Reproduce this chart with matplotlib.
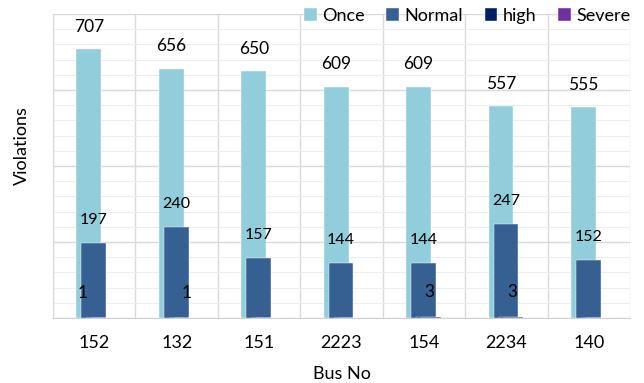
import matplotlib.pyplot as plt
import numpy as np

plt.rcParams['font.family'] = ['Lato', 'DejaVu Sans']

# Bus numbers and violation counts per severity level
buses = ['152', '132', '151', '2223', '154', '2234', '140']
once = [707, 656, 650, 609, 609, 557, 555]
normal = [197, 240, 157, 144, 144, 247, 152]
high = [1, 1, 0, 0, 3, 3, 0]
severe = [0, 0, 0, 0, 0, 0, 0]

series = [('Once', once, '#92cddc'),
          ('Normal', normal, '#366092'),
          ('high', high, '#002060'),
          ('Severe', severe, '#7030a0')]

fig = plt.figure(figsize=(6.44, 3.83), dpi=100)
ax = fig.add_axes([0.0823, 0.1697, 0.896, 0.7937])

x = np.arange(len(buses))
width = 0.30
offsets = [-0.065, -0.005, 0.055, 0.115]

for (name, vals, col), off in zip(series, offsets):
    ax.bar(x + off, vals, width, color=col, label=name, zorder=3,
           edgecolor='white', linewidth=0.3)

# value labels
for xi, v in zip(x + offsets[0], once):
    ax.text(xi, v + 38, str(v), ha='center', va='bottom', fontsize=12.5)
for xi, v in zip(x + offsets[1], normal):
    ax.text(xi, v + 42, str(v), ha='center', va='bottom', fontsize=11.5)
# small labels for the "high" series, nudged by hand
high_nudge = [-0.19, 0.06, 0, 0, 0.01, 0.02, 0]
for xi, v, dx in zip(x + offsets[2], high, high_nudge):
    if v > 0:
        ax.text(xi + dx, v + 65, str(v), ha='center', va='center', fontsize=12.5)

ax.set_xlim(-0.5, len(buses) - 0.5)
ax.set_ylim(0, 800)
ax.set_yticks(np.arange(0, 801, 200))
ax.set_yticks(np.arange(0, 801, 40), minor=True)
ax.set_yticklabels([])
ax.tick_params(axis='y', which='both', length=0)
ax.set_xticks(x)
ax.set_xticklabels(buses, fontsize=13)
ax.tick_params(axis='x', length=0, pad=12)

# grid: horizontal major/minor, vertical at category boundaries
ax.grid(axis='y', which='major', color='#d9d9d9', linewidth=1, zorder=0)
ax.grid(axis='y', which='minor', color='#ededed', linewidth=0.8, zorder=0)
for b in np.arange(-0.5, len(buses), 1.0):
    ax.axvline(b, color='#d9d9d9', linewidth=1, zorder=0)

for s in ['top', 'right']:
    ax.spines[s].set_visible(False)
ax.spines['left'].set_color('#d9d9d9')
ax.spines['bottom'].set_color('#d0d0d0')

ax.set_xlabel('Bus No', fontsize=13)
ax.xaxis.set_label_coords(0.5, -0.158)
ax.set_ylabel('Violations', fontsize=13)
ax.yaxis.set_label_coords(-0.040, 0.566)

ax.legend(loc='center right', bbox_to_anchor=(0.99, 0.958), bbox_transform=fig.transFigure,
          ncol=4, frameon=False, fontsize=13, handlelength=0.7, handleheight=0.7,
          handletextpad=0.3, columnspacing=1.2, borderaxespad=0)

plt.savefig('out.png', dpi=100)
